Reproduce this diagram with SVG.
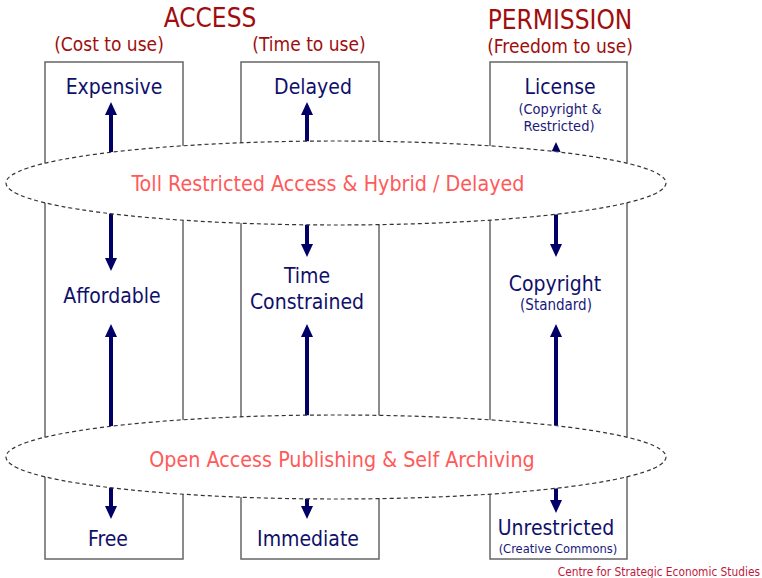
<svg xmlns="http://www.w3.org/2000/svg" width="762" height="578" viewBox="0 0 762 578">
<style>
text{font-family:"DejaVu Sans Condensed","DejaVu Sans",sans-serif;text-anchor:middle}
.col{fill:#fff;stroke:#666;stroke-width:1.5}
.hd{fill:#a00d0d;font-size:26px}
.sub{fill:#a00d0d;font-size:19px}
.nd{fill:#10106a;font-size:21px}
.sm{fill:#1a1a7a;font-size:14.5px}
.ell{fill:#fff;stroke:#333;stroke-width:1.2;stroke-dasharray:4 3}
.et{fill:#ff5a5a;font-size:21.3px}
.arr{stroke:#000066;stroke-width:4;fill:none}
.ah{fill:#000066}
.ft{fill:#c0183c;font-size:11.8px;text-anchor:end}
</style>
<defs>
<path id="up" d="M0,0 L-6,13 L6,13 Z" class="ah"/>
<path id="dn" d="M0,0 L-6,-13 L6,-13 Z" class="ah"/>
</defs>
<g id="headers">
<text class="hd" x="210" y="27">ACCESS</text>
<text class="sub" x="109" y="51">(Cost to use)</text>
<text class="sub" x="309" y="51">(Time to use)</text>
<text class="hd" x="560" y="29">PERMISSION</text>
<text class="sub" x="560" y="53">(Freedom to use)</text>
</g>
<g id="col-cost"><rect class="col" x="45" y="62" width="138" height="497"/></g>
<g id="col-time"><rect class="col" x="241" y="62" width="138" height="497"/></g>
<g id="col-permission"><rect class="col" x="490" y="62" width="137" height="497"/></g>
<g id="connectors">
<line class="arr" x1="111" y1="160" x2="111" y2="112"/><use href="#up" x="111" y="102"/>
<line class="arr" x1="111" y1="210" x2="111" y2="260"/><use href="#dn" x="111" y="271"/>
<line class="arr" x1="111" y1="430" x2="111" y2="334"/><use href="#up" x="111" y="324"/>
<line class="arr" x1="111" y1="480" x2="111" y2="508"/><use href="#dn" x="111" y="519"/>
<line class="arr" x1="307" y1="160" x2="307" y2="112"/><use href="#up" x="307" y="102"/>
<line class="arr" x1="307" y1="210" x2="307" y2="246"/><use href="#dn" x="307" y="257"/>
<line class="arr" x1="307" y1="430" x2="307" y2="334"/><use href="#up" x="307" y="324"/>
<line class="arr" x1="307" y1="480" x2="307" y2="508"/><use href="#dn" x="307" y="519"/>
<line class="arr" x1="556" y1="170" x2="556" y2="150"/><use href="#up" x="556" y="142"/>
<line class="arr" x1="556" y1="210" x2="556" y2="246"/><use href="#dn" x="556" y="257"/>
<line class="arr" x1="556" y1="430" x2="556" y2="334"/><use href="#up" x="556" y="324"/>
<line class="arr" x1="556" y1="480" x2="556" y2="502"/><use href="#dn" x="556" y="513"/>
</g>
<g id="toll">
<ellipse class="ell" cx="336" cy="183" rx="330" ry="42"/>
<text class="et" x="328" y="191">Toll Restricted Access &amp; Hybrid / Delayed</text>
</g>
<g id="open-access">
<ellipse class="ell" cx="336" cy="457" rx="330" ry="42"/>
<text class="et" x="342" y="467">Open Access Publishing &amp; Self Archiving</text>
</g>
<g id="expensive"><text class="nd" x="114" y="94">Expensive</text></g>
<g id="delayed"><text class="nd" x="313" y="94">Delayed</text></g>
<g id="license"><text class="nd" x="560" y="94">License</text>
<text class="sm" x="560" y="114">(Copyright &amp;</text>
<text class="sm" x="559" y="131">Restricted)</text></g>
<g id="affordable"><text class="nd" x="112" y="303">Affordable</text></g>
<g id="time-constrained"><text class="nd" x="307" y="283">Time</text>
<text class="nd" x="307" y="309">Constrained</text></g>
<g id="copyright"><text class="nd" x="555" y="291">Copyright</text>
<text class="sm" x="556" y="310" style="font-size:15px">(Standard)</text></g>
<g id="free"><text class="nd" x="108" y="546">Free</text></g>
<g id="immediate"><text class="nd" x="308" y="546">Immediate</text></g>
<g id="unrestricted"><text class="nd" x="556" y="535">Unrestricted</text>
<text class="sm" x="558" y="553" style="font-size:12.8px">(Creative Commons)</text></g>
<text class="ft" x="760" y="576">Centre for Strategic Economic Studies</text>
</svg>
